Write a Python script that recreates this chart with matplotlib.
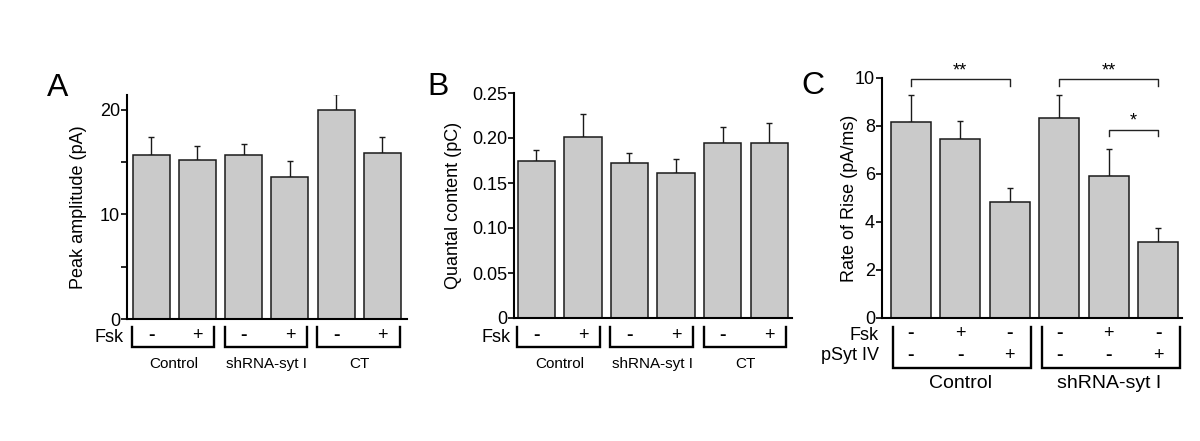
import matplotlib
matplotlib.use("Agg")
import matplotlib.pyplot as plt
from matplotlib.transforms import blended_transform_factory
from matplotlib.ticker import MultipleLocator

plt.rcParams['font.family'] = ['Liberation Sans', 'DejaVu Sans']

# ---------------- data ----------------
a_values = [15.7, 15.2, 15.7, 13.6, 20.0, 15.9]
a_errors = [1.7, 1.3, 1.0, 1.5, 1.5, 1.5]

b_values = [0.175, 0.2015, 0.172, 0.161, 0.194, 0.195]
b_errors = [0.012, 0.025, 0.011, 0.016, 0.018, 0.022]

c_values = [8.15, 7.47, 4.82, 8.32, 5.92, 3.18]
c_errors = [1.15, 0.75, 0.60, 0.98, 1.11, 0.56]

ab_fsk = ['-', '+', '-', '+', '-', '+']
ab_groups = ['Control', 'shRNA-syt I', 'CT']

c_fsk = ['-', '+', '-', '-', '+', '-']
c_psyt = ['-', '-', '+', '-', '-', '+']
c_groups = ['Control', 'shRNA-syt I']

# significance: (bar i, bar j, label)
c_sig = [(0, 2, '**'), (3, 5, '**'), (4, 5, '*')]
c_sig_levels = [9.95, 9.95, 7.85]

W, H = 1200, 441
fig = plt.figure(figsize=(W / 100, H / 100), dpi=100)


def add_axes_px(left, right, top, bottom):
    return fig.add_axes([left / W, (H - bottom) / H, (right - left) / W, (bottom - top) / H])


def fy(py):
    return (H - py) / H


BAR_COLOR = '#cacaca'
EDGE = '#1a1a1a'
TICK_FS = 13
ROW_FS = 13


def style(ax):
    for s in ['top', 'right']:
        ax.spines[s].set_visible(False)
    for s in ['left', 'bottom']:
        ax.spines[s].set_linewidth(1.5)
        ax.spines[s].set_color('black')
    ax.tick_params(axis='y', which='both', direction='out', length=4, width=1.2,
                   labelsize=TICK_FS, pad=1)
    ax.tick_params(axis='x', which='both', bottom=False, labelbottom=False)


def bars(ax, vals, errs):
    x = list(range(len(vals)))
    ax.bar(x, vals, width=0.8, color=BAR_COLOR, edgecolor=EDGE, linewidth=1.1, zorder=2)
    ax.errorbar(x, vals, yerr=[[0] * len(errs), errs], fmt='none', ecolor=EDGE,
                elinewidth=1.0, capsize=2.5, capthick=1.0, zorder=1)
    return x


def bracket(ax, x0, x1, ytop, ybot, lw=1.7):
    tr = blended_transform_factory(ax.transData, fig.transFigure)
    ax.plot([x0, x0, x1, x1], [fy(ytop), fy(ybot), fy(ybot), fy(ytop)],
            transform=tr, color='black', lw=lw, clip_on=False, solid_joinstyle='miter')


def sign(ax, x, py, s, tr):
    if s == '-':
        ax.text(x, fy(py), '-', transform=tr, ha='center', va='center',
                fontsize=ROW_FS + 1, fontweight='bold')
    else:
        ax.text(x, fy(py), s, transform=tr, ha='center', va='center', fontsize=ROW_FS)


# ---------------- Panel A ----------------
axA = add_axes_px(127, 407, 95, 319)
style(axA)
xA = bars(axA, a_values, a_errors)
axA.set_xlim(-0.52, 5.53)
axA.set_ylim(0, 21.4)
axA.yaxis.set_major_locator(MultipleLocator(10))
axA.yaxis.set_minor_locator(MultipleLocator(5))
axA.set_ylabel('Peak amplitude (pA)', fontsize=13)
axA.yaxis.set_label_coords(-0.143, 0.5)

# ---------------- Panel B ----------------
axB = add_axes_px(514, 792, 93, 318)
style(axB)
xB = bars(axB, b_values, b_errors)
axB.set_xlim(-0.48, 5.49)
axB.set_ylim(0, 0.25)
axB.set_yticks([0, 0.05, 0.10, 0.15, 0.20, 0.25])
axB.set_yticklabels(['0', '0.05', '0.10', '0.15', '0.20', '0.25'])
axB.set_ylabel('Quantal content (pC)', fontsize=13)
axB.yaxis.set_label_coords(-0.187, 0.5)

# ---------------- Panel C ----------------
axC = add_axes_px(882, 1182, 78, 318)
style(axC)
xC = bars(axC, c_values, c_errors)
axC.set_xlim(-0.58, 5.48)
axC.set_ylim(0, 10)
axC.set_yticks([0, 2, 4, 6, 8, 10])
axC.set_ylabel('Rate of Rise (pA/ms)', fontsize=13)
axC.yaxis.set_label_coords(-0.08, 0.5)

# ---------------- condition rows A/B ----------------
for ax in (axA, axB):
    trd = blended_transform_factory(ax.transData, fig.transFigure)
    tra = blended_transform_factory(ax.transAxes, fig.transFigure)
    ax.text(-0.012, fy(337), 'Fsk', transform=tra, ha='right', va='center', fontsize=ROW_FS)
    for i, s in enumerate(ab_fsk):
        sign(ax, i, 336, s, trd)
    for g, name in enumerate(ab_groups):
        i0, i1 = 2 * g, 2 * g + 1
        bracket(ax, i0 - 0.41, i1 + 0.37, 327, 347)
        ax.text((i0 + i1) / 2, fy(364), name, transform=trd, ha='center', va='center',
                fontsize=11)

# ---------------- condition rows C ----------------
trd = blended_transform_factory(axC.transData, fig.transFigure)
tra = blended_transform_factory(axC.transAxes, fig.transFigure)
axC.text(-0.01, fy(336), 'Fsk', transform=tra, ha='right', va='center', fontsize=ROW_FS)
axC.text(-0.01, fy(356), 'pSyt IV', transform=tra, ha='right', va='center', fontsize=ROW_FS)
for i, (s1, s2) in enumerate(zip(c_fsk, c_psyt)):
    sign(axC, i, 334, s1, trd)
    sign(axC, i, 355, s2, trd)
for g, name in enumerate(c_groups):
    i0, i1 = 3 * g, 3 * g + 2
    bracket(axC, i0 - 0.35, i1 + 0.43, 327, 368)
    axC.text((i0 + i1) / 2, fy(383), name, transform=trd, ha='center', va='center',
             fontsize=14)

# significance brackets
for (i, j, lab), lev in zip(c_sig, c_sig_levels):
    axC.plot([i, i, j, j], [lev - 0.27, lev, lev, lev - 0.27], color='#222222', lw=1.0,
             clip_on=False)
    axC.text((i + j) / 2, lev + 0.0, lab, ha='center', va='bottom', fontsize=13,
             clip_on=False)

# ---------------- panel letters ----------------
for px, py, letter in [(47, 96, 'A'), (427, 95, 'B'), (801, 94, 'C')]:
    fig.text(px / W, fy(py), letter, fontsize=23, ha='left', va='baseline')

fig.savefig('out.png', dpi=100)
